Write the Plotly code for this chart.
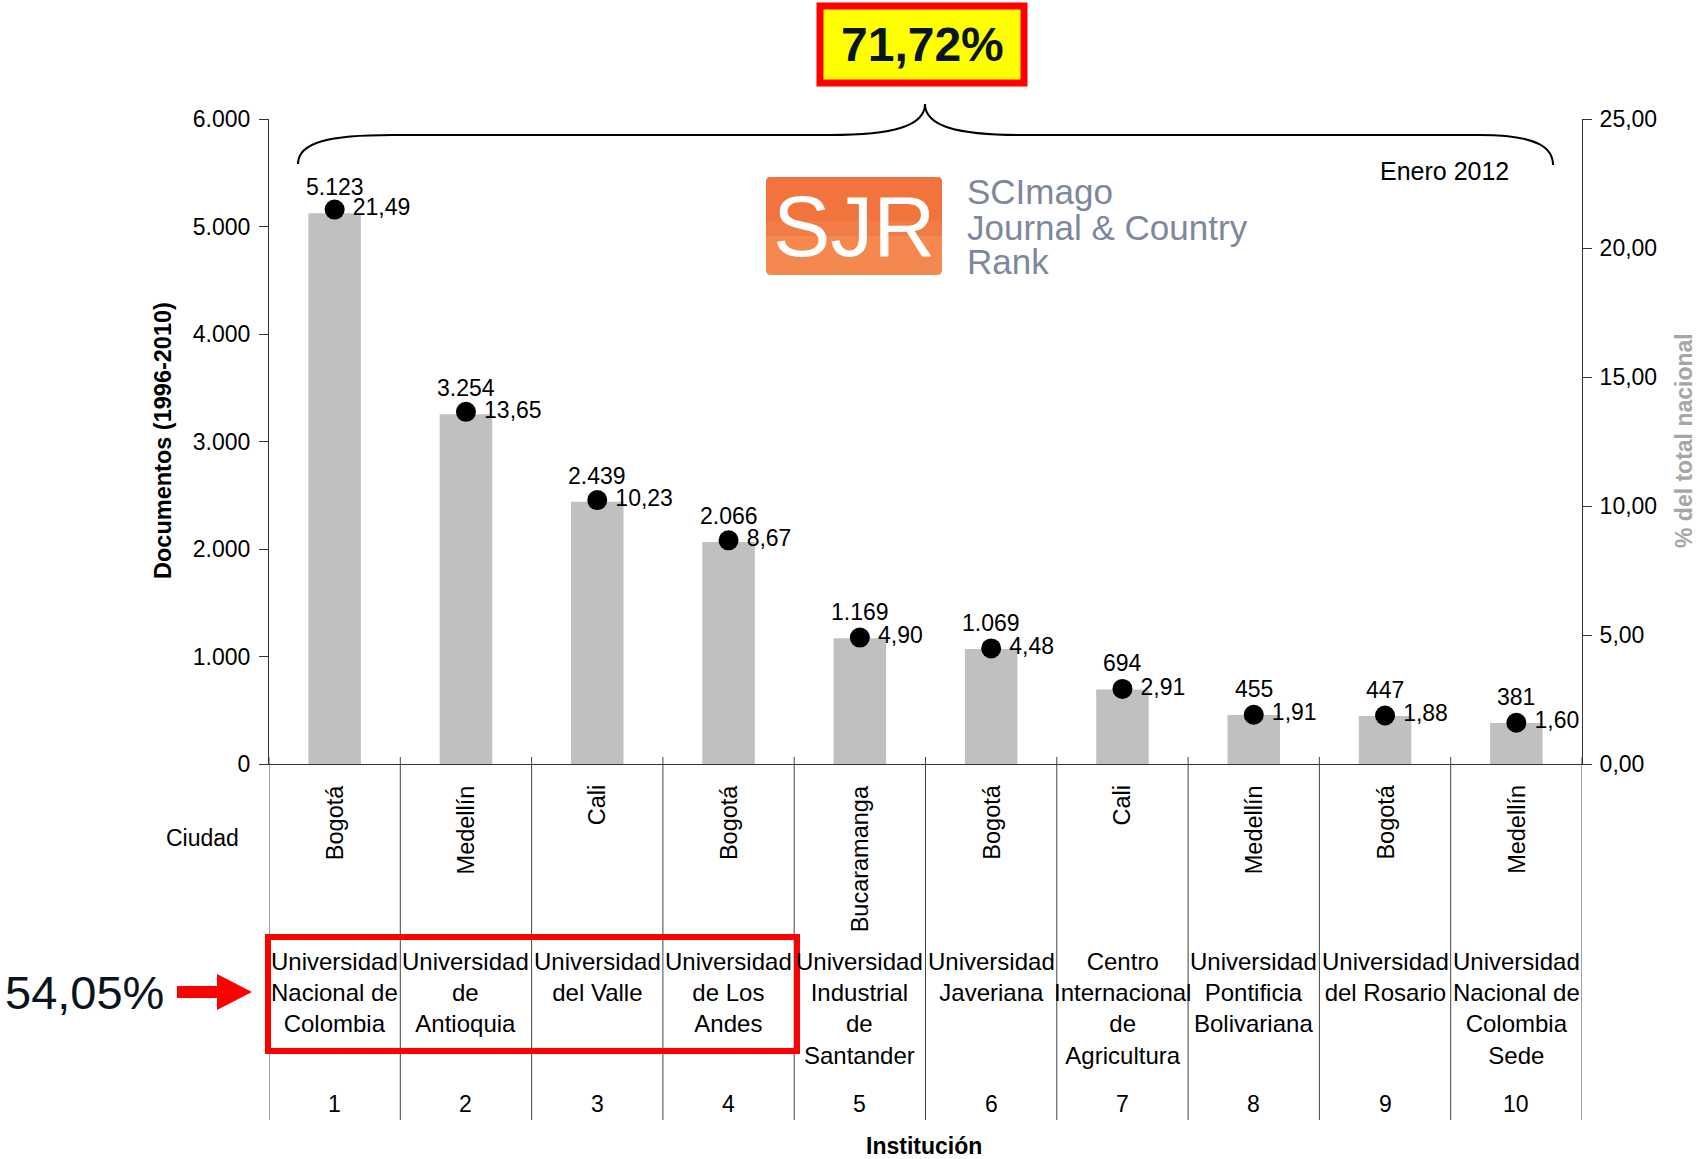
import plotly.graph_objects as go

# ---------------- data ----------------
ranks = ["1", "2", "3", "4", "5", "6", "7", "8", "9", "10"]
documentos = [5123, 3254, 2439, 2066, 1169, 1069, 694, 455, 447, 381]
porcentaje = [21.49, 13.65, 10.23, 8.67, 4.90, 4.48, 2.91, 1.91, 1.88, 1.60]
ciudades = ["Bogotá", "Medellín", "Cali", "Bogotá", "Bucaramanga",
            "Bogotá", "Cali", "Medellín", "Bogotá", "Medellín"]
instituciones = [
    "Universidad<br>Nacional de<br>Colombia",
    "Universidad<br>de<br>Antioquia",
    "Universidad<br>del Valle",
    "Universidad<br>de Los<br>Andes",
    "Universidad<br>Industrial<br>de<br>Santander",
    "Universidad<br>Javeriana",
    "Centro<br>Internacional<br>de<br>Agricultura",
    "Universidad<br>Pontificia<br>Bolivariana",
    "Universidad<br>del Rosario",
    "Universidad<br>Nacional de<br>Colombia<br>Sede",
]
left_tickvals = [0, 1000, 2000, 3000, 4000, 5000, 6000]
left_ticktext = ["0", "1.000", "2.000", "3.000", "4.000", "5.000", "6.000"]
right_tickvals = [0, 5, 10, 15, 20, 25]
right_ticktext = ["0,00", "5,00", "10,00", "15,00", "20,00", "25,00"]
total_top = "71,72%"
total_top4 = "54,05%"

# ---------------- geometry helpers (decorations only) ----------------
W, H = 1701, 1159
PX0, PY0, PX1, PY1 = 269, 119, 1582, 764      # plot area in page pixels
PW, PH = PX1 - PX0, PY1 - PY0
L, T = PX0, PY0
R, B = W - L - PW, H - T - PH


def px(x):
    return (x - PX0) / PW


def py(y):
    return (PY1 - y) / PH


FONT = "Liberation Sans, Arial, sans-serif"
TXT = "#000000"

fig = go.Figure()
fig.add_trace(go.Bar(
    x=ranks, y=documentos, marker=dict(color="#C0C0C0", line=dict(width=0)),
    yaxis="y", hoverinfo="skip",
))
fig.add_trace(go.Scatter(
    x=ranks, y=porcentaje, yaxis="y2", mode="markers+text",
    marker=dict(color="black", size=20),
    text=["\u2009" + f"{v:.2f}".replace(".", ",") for v in porcentaje],
    textposition="middle right",
    textfont=dict(family=FONT, size=23, color=TXT),
    cliponaxis=False,
))


def note(x, y, text, size=23, color=TXT, xref="paper", yref="paper",
         xanchor="center", yanchor="middle", **kw):
    d = dict(x=x, y=y, xref=xref, yref=yref, xanchor=xanchor, yanchor=yanchor,
             showarrow=False, text=text, font=dict(family=kw.pop("family", FONT),
                                                   size=size, color=color))
    d.update(kw)
    return d


ann = []
# bar value labels
for i, v in enumerate(documentos):
    ann.append(note(i, v, f"{v:,}".replace(",", "."), xref="x", yref="y", yshift=26))
# table rows
for i, (r, c, n) in enumerate(zip(ranks, ciudades, instituciones)):
    ann.append(note(i, py(783), c, size=23.5, xref="x", yanchor="top", textangle=-90))
    ann.append(note(i, py(946), n, size=24, xref="x", yanchor="top", align="center"))
    ann.append(note(i, py(1104), r, xref="x"))

ann += [
    note(px(202), py(838), "Ciudad"),
    note(px(924), py(1146), "<b>Institución</b>"),
    note(px(163), py(441), "<b>Documentos (1996-2010)</b>", size=23.5, textangle=-90),
    note(px(1684), py(441), "<b>% del total nacional</b>", color="#A6A6A6", textangle=-90),
    note(px(922), py(45), f"<b>{total_top}</b>", size=48, color="#0a141e"),
    note(px(84), py(992), total_top4, size=47, color="#0a141e"),
    note(px(1444), py(171), "Enero 2012", size=25),
    note(px(854), py(226), "SJR", size=86, color="white",
         family="Liberation Sans Narrow, Liberation Sans, sans-serif"),
]
for txt, yy in [("SCImago", 191), ("Journal &amp; Country", 227), ("Rank", 261)]:
    ann.append(note(px(966), py(yy), txt, size=35, color="#7d889c", xanchor="left",
                    borderpad=0))

shapes = []
# category dividers / x ticks
for k in range(len(ranks) + 1):
    shapes.append(dict(type="line", xref="x", yref="paper", x0=k - 0.5, x1=k - 0.5,
                       y0=py(757), y1=py(1120), line=dict(color="#444444", width=1)))


def P(x, y):
    return f"{px(x):.5f},{py(y):.5f}"


brace = (f"M {P(298,164)} C {P(298,142)} {P(330,135)} {P(392,135)} L {P(830,135)} "
         f"C {P(893,135)} {P(925,126)} {P(925,104)} C {P(925,126)} {P(957,135)} {P(1020,135)} "
         f"L {P(1480,135)} C {P(1542,135)} {P(1553,150)} {P(1553,165)}")
shapes.append(dict(type="path", xref="paper", yref="paper", path=brace,
                   line=dict(color="black", width=2)))
# top box
shapes.append(dict(type="rect", xref="paper", yref="paper", x0=px(820), x1=px(1024),
                   y0=py(6), y1=py(83), fillcolor="#FFFF00",
                   line=dict(color="#FF0000", width=7), layer="below"))
# red rectangle around top 4
shapes.append(dict(type="rect", xref="paper", yref="paper", x0=px(268), x1=px(797),
                   y0=py(937), y1=py(1051), line=dict(color="#FF0000", width=6)))
# red arrow
arrow = ("M " + " L ".join(P(x, y) for x, y in
                           [(177, 986), (217, 986), (217, 974), (252, 992),
                            (217, 1010), (217, 998), (177, 998)]) + " Z")
shapes.append(dict(type="path", xref="paper", yref="paper", path=arrow,
                   fillcolor="#FF0000", line=dict(width=0)))
# SJR orange box (rounded, two-tone for a slight gradient)
r0 = 5
x0, x1, y0, y1 = 766, 942, 177, 275


def rrect(x0, x1, y0, y1, r0):
    return (f"M {P(x0+r0,y0)} L {P(x1-r0,y0)} Q {P(x1,y0)} {P(x1,y0+r0)} L {P(x1,y1-r0)} "
            f"Q {P(x1,y1)} {P(x1-r0,y1)} L {P(x0+r0,y1)} Q {P(x0,y1)} {P(x0,y1-r0)} "
            f"L {P(x0,y0+r0)} Q {P(x0,y0)} {P(x0+r0,y0)} Z")


shapes.append(dict(type="path", xref="paper", yref="paper", path=rrect(x0, x1, y0, y1, r0),
                   fillcolor="#F4884F", line=dict(width=0), layer="below"))
shapes.append(dict(type="path", xref="paper", yref="paper",
                   path=rrect(x0, x1, y0, (y0 + y1) / 2 + 10, r0),
                   fillcolor="#F1733D", line=dict(width=0), layer="below"))
shapes.append(dict(type="rect", xref="paper", yref="paper", x0=px(x0), x1=px(x1),
                   y0=py((y0 + y1) / 2 - 5), y1=py((y0 + y1) / 2 + 10),
                   fillcolor="#F27C45", line=dict(width=0), layer="below"))

fig.update_layout(
    width=W, height=H,
    margin=dict(l=L, r=R, t=T, b=B, pad=0),
    paper_bgcolor="white", plot_bgcolor="white",
    showlegend=False, bargap=0.6,
    font=dict(family=FONT, size=23, color=TXT),
    xaxis=dict(type="category", range=[-0.5, len(ranks) - 0.5], showticklabels=False,
               showline=True, linecolor="#333333", linewidth=1, ticks="",
               showgrid=False, zeroline=False, fixedrange=True),
    yaxis=dict(range=[0, 6000], tickvals=left_tickvals, ticktext=left_ticktext,
               showline=True, linecolor="#333333", linewidth=1, ticks="outside",
               ticklen=9, tickcolor="#333333", showgrid=False, zeroline=False,
               ticklabelstandoff=4,
               tickfont=dict(family=FONT, size=23, color=TXT)),
    yaxis2=dict(range=[0, 25], overlaying="y", side="right", tickvals=right_tickvals,
                ticktext=right_ticktext, showline=True, linecolor="#333333", linewidth=1,
                ticks="outside", ticklen=9, tickcolor="#333333", showgrid=False,
                zeroline=False, ticklabelstandoff=3,
                tickfont=dict(family=FONT, size=23, color=TXT)),
    annotations=ann, shapes=shapes,
)

fig.write_html(
    "out.html",
    config={"displayModeBar": False},
    post_script="document.body.style.margin='0px';document.body.style.overflow='hidden';",
)
